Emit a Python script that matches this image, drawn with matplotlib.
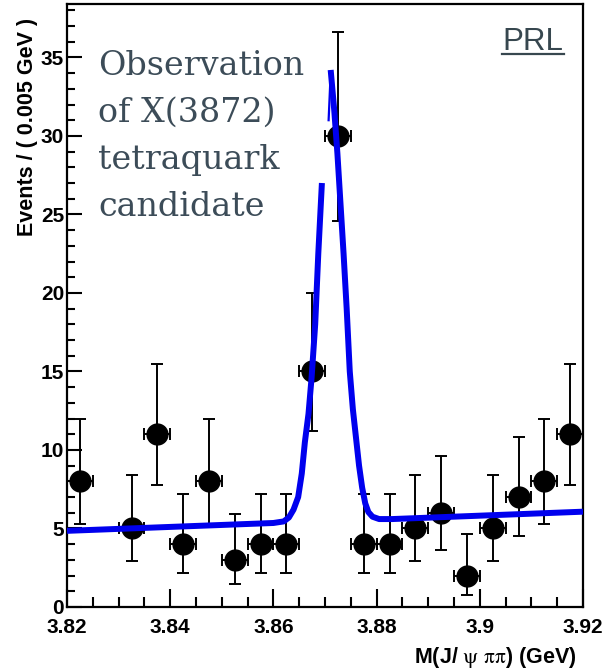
import numpy as np
import matplotlib
matplotlib.use("Agg")
import matplotlib.pyplot as plt
from matplotlib.lines import Line2D

# 数据: 每个 bin 的中心, 事件数, 误差棒上下限
mass = [3.8225, 3.8325, 3.8375, 3.8425, 3.8475, 3.8525, 3.8575, 3.8625,
        3.8675, 3.8725, 3.8775, 3.8825, 3.8875, 3.8925, 3.8975, 3.9025,
        3.9075, 3.9125, 3.9175]
events = [8, 5, 11, 4, 8, 3, 4, 4, 15, 30, 4, 4, 5, 6, 2, 5, 7, 8, 11]
err_lo = [5.3, 2.9, 7.8, 2.15, 5.3, 1.45, 2.15, 2.15, 11.2, 24.6, 2.15, 2.15,
          2.9, 3.6, 0.76, 2.9, 4.5, 5.3, 7.8]
err_hi = [12.0, 8.4, 15.5, 7.2, 12.0, 5.9, 7.2, 7.2, 20.0, 36.6, 7.2, 7.2,
          8.4, 9.6, 4.65, 8.4, 10.8, 12.0, 15.5]
half_bin = 0.0025

# 拟合曲线
fit_left_x = [3.82, 3.8600, 3.8620, 3.8630, 3.8639, 3.8648, 3.8655, 3.8661,
              3.8668, 3.8674, 3.8681, 3.8687, 3.8694]
fit_left_y = [4.85, 5.35, 5.45, 5.7, 6.2, 7.0, 8.5, 10.5, 12.3, 14.6, 18.0,
              22.5, 27.0]
fit_thin_x = [3.8707, 3.8711]
fit_thin_y = [31.0, 34.0]
fit_right_x = [3.8711, 3.8718, 3.8724, 3.8730, 3.8736, 3.8742, 3.8748, 3.8754,
               3.8760, 3.8766, 3.8772, 3.8778, 3.8784, 3.8792, 3.8805, 3.8830, 3.92]
fit_right_y = [34.2, 31.6, 28.9, 25.7, 22.5, 19.0, 15.0, 12.6, 10.8, 9.0, 7.6,
               6.6, 6.05, 5.75, 5.6, 5.6, 6.07]

W, H = 607, 671
fig = plt.figure(figsize=(W / 100, H / 100), dpi=100)
ax = fig.add_axes([67 / W, 1 - 607 / H, (583 - 67) / W, (607 - 4) / H])

ev = np.array(events, dtype=float)
yerr = [ev - np.array(err_lo), np.array(err_hi) - ev]
ax.errorbar(mass, events, xerr=half_bin, yerr=yerr, fmt='o', color='black',
            markersize=15, elinewidth=1.4, capsize=4, capthick=1.4, zorder=3)

blue = '#0000ee'
ax.plot(fit_left_x, fit_left_y, color=blue, lw=4.3, solid_capstyle='butt',
        solid_joinstyle='round', zorder=4)
ax.plot(fit_thin_x, fit_thin_y, color=blue, lw=1.6, zorder=4)
ax.plot(fit_right_x, fit_right_y, color=blue, lw=4.3, solid_capstyle='butt',
        solid_joinstyle='round', zorder=4)

ax.set_xlim(3.82, 3.92)
ax.set_ylim(0, 38.4)
ax.set_xticks([3.82, 3.84, 3.86, 3.88, 3.9, 3.92])
ax.set_xticklabels(['3.82', '3.84', '3.86', '3.88', '3.9', '3.92'])
ax.set_xticks(np.arange(3.82, 3.9201, 0.005), minor=True)
ax.set_yticks(range(0, 40, 5))
ax.set_yticks(range(0, 39), minor=True)

for s in ax.spines.values():
    s.set_linewidth(1.6)

ax.tick_params(which='both', direction='in', top=False, right=False)
ax.tick_params(axis='x', which='major', length=13, width=1.5, pad=8)
ax.tick_params(axis='x', which='minor', length=7, width=1.5)
ax.tick_params(axis='y', which='major', length=11, width=1.5, pad=2)
ax.tick_params(axis='y', which='minor', length=6, width=1.5)
for lab in ax.get_xticklabels() + ax.get_yticklabels():
    lab.set_fontfamily('Liberation Sans')
    lab.set_fontweight('bold')
    lab.set_fontsize(15)

plt.rcParams['mathtext.fontset'] = 'stix'
fig.text(577 / W, 1 - 657 / H, r'M(J/ $\mathrm{\psi}$ $\mathrm{\pi\pi}$) (GeV)',
         ha='right', va='center', fontsize=15.5, fontweight='bold',
         family='Liberation Sans')
fig.text(28 / W, 1 - 18 / H, 'Events / ( 0.005 GeV )', rotation=90,
         ha='center', va='top', fontsize=15.5, fontweight='bold',
         family='Liberation Sans')

# 注释文字
note_color = '#3c4c58'
lines = ['Observation', 'of X(3872)', 'tetraquark', 'candidate']
for i, t in enumerate(lines):
    fig.text(98 / W, 1 - (75 + 47 * i) / H, t, ha='left', va='baseline',
             fontsize=24, family='DejaVu Serif', color=note_color)

fig.text(502 / W, 1 - 50 / H, 'PRL', ha='left', va='baseline',
         fontsize=22.5, family='Liberation Sans', color='#37474f')
fig.add_artist(Line2D([502 / W, 564 / W], [1 - 53.5 / H, 1 - 53.5 / H],
                      transform=fig.transFigure, color='#37474f', lw=1.6))

fig.savefig('out.png', dpi=100)
